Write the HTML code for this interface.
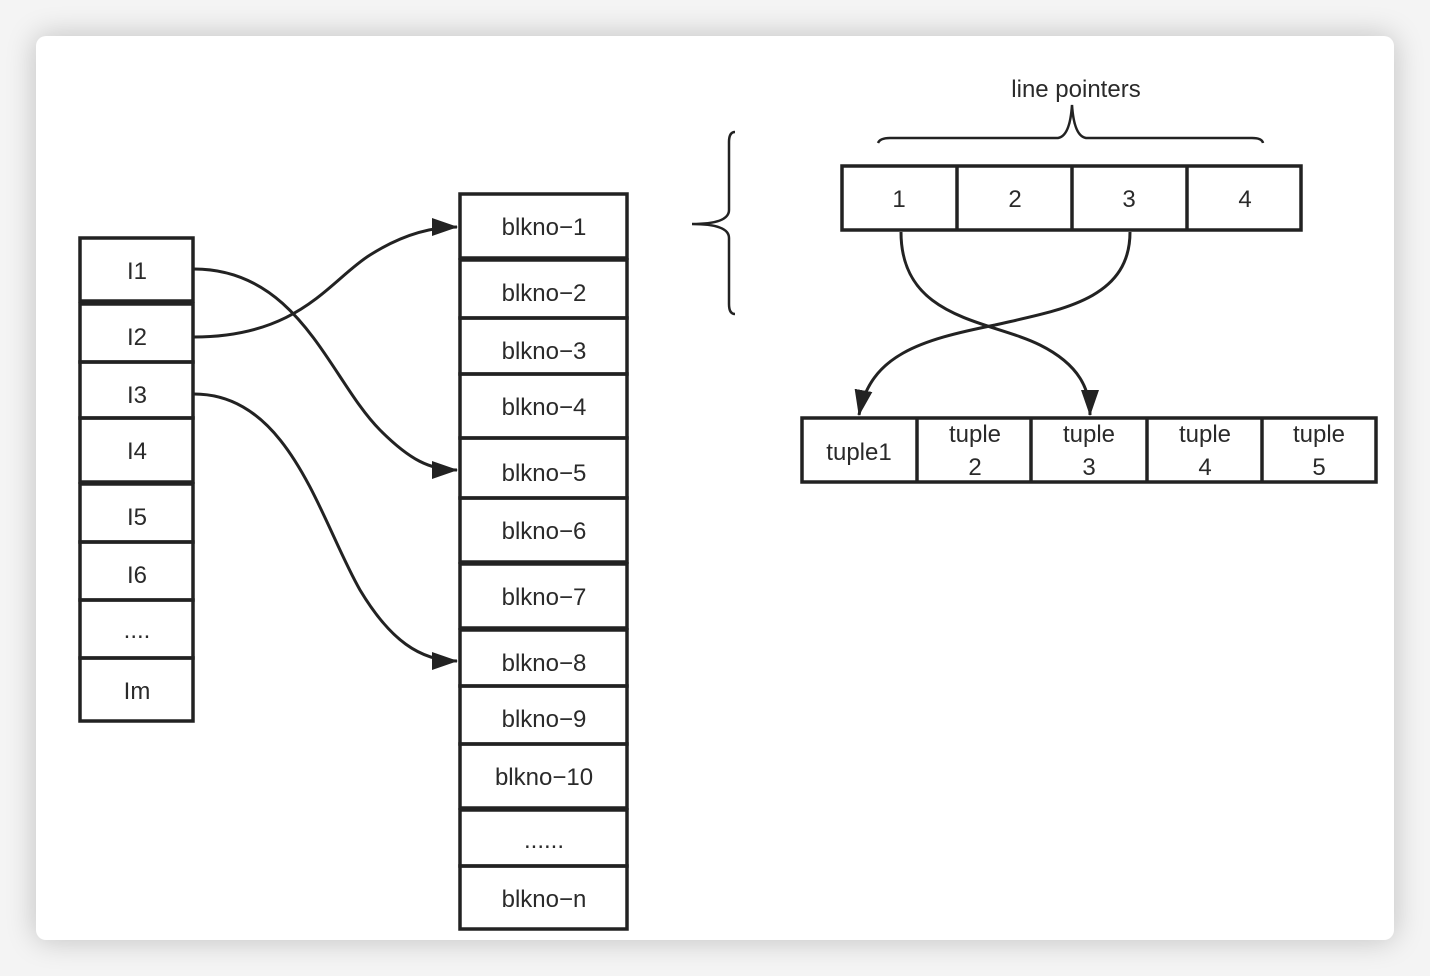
<!DOCTYPE html>
<html><head><meta charset="utf-8"><style>
html,body{margin:0;padding:0;background:#f4f4f4;width:1430px;height:976px;overflow:hidden}
.card{position:absolute;left:36px;top:36px;width:1358px;height:904px;background:#fff;border-radius:10px;box-shadow:0 0 30px rgba(0,0,0,0.22)}
svg{position:absolute;left:0;top:0}
text{font-family:"Liberation Sans",Arial,sans-serif;font-size:24px;fill:#2a2a2a;text-anchor:middle}
</style></head><body>
<div class="card"></div>
<svg width="1430" height="976" viewBox="0 0 1430 976">
<defs>
<marker id="a2" viewBox="0 0 26 18" refX="25" refY="9" markerWidth="26" markerHeight="18" orient="auto" markerUnits="userSpaceOnUse"><path d="M0,0 L26,9 L0,18 z" fill="#222"/></marker></defs>
<g fill="none" stroke="#222" stroke-width="3.5">
<rect x="80" y="238" width="113" height="63"/><rect x="80" y="304" width="113" height="58"/><rect x="80" y="362" width="113" height="56"/><rect x="80" y="418" width="113" height="64"/><rect x="80" y="484" width="113" height="58"/><rect x="80" y="542" width="113" height="58"/><rect x="80" y="600" width="113" height="58"/><rect x="80" y="658" width="113" height="63"/>
<rect x="460" y="194" width="167" height="64"/><rect x="460" y="260" width="167" height="58"/><rect x="460" y="318" width="167" height="56"/><rect x="460" y="374" width="167" height="64"/><rect x="460" y="438" width="167" height="60"/><rect x="460" y="498" width="167" height="64"/><rect x="460" y="564" width="167" height="64"/><rect x="460" y="630" width="167" height="56"/><rect x="460" y="686" width="167" height="58"/><rect x="460" y="744" width="167" height="64"/><rect x="460" y="810" width="167" height="56"/><rect x="460" y="866" width="167" height="63"/>
<rect x="842" y="166" width="459" height="64"/><line x1="957" y1="166" x2="957" y2="230"/><line x1="1072" y1="166" x2="1072" y2="230"/><line x1="1187" y1="166" x2="1187" y2="230"/>
<rect x="802" y="418" width="574" height="64"/><line x1="917" y1="418" x2="917" y2="482"/><line x1="1031" y1="418" x2="1031" y2="482"/><line x1="1147" y1="418" x2="1147" y2="482"/><line x1="1262" y1="418" x2="1262" y2="482"/>
</g>
<g fill="none" stroke="#222" stroke-width="3">
<path d="M194,269 C300,269 330,380 380,430 C410,460 430,470 457,470" marker-end="url(#a2)"/>
<path d="M194,337 C300,337 330,280 370,255 C400,236 430,227 457,227" marker-end="url(#a2)"/>
<path d="M194,394 C290,394 320,520 360,590 C390,640 420,661 457,661" marker-end="url(#a2)"/>
<path d="M901,232 C901,320 990,320 1040,345 C1080,365 1090,390 1090,415" marker-end="url(#a2)"/>
<path d="M1130,232 C1130,300 1060,310 995,325 C920,340 870,355 859,415" marker-end="url(#a2)"/>
</g>
<g fill="none" stroke="#222" stroke-width="2.5">
<path d="M878,143 Q880,138 890,138 L1058,138 Q1070,136 1072,105 Q1074,136 1086,138 L1252,138 Q1262,138 1263,143"/>
<path d="M735,132 Q729,132 729,142 L729,210 Q729,224 692,224 Q729,224 729,238 L729,304 Q729,314 735,314"/>
</g>
<text x="137" y="279">I1</text><text x="137" y="345">I2</text><text x="137" y="403">I3</text><text x="137" y="459">I4</text><text x="137" y="525">I5</text><text x="137" y="583">I6</text><text x="137" y="638">....</text><text x="137" y="699">Im</text>
<text x="544" y="235">blkno−1</text><text x="544" y="301">blkno−2</text><text x="544" y="359">blkno−3</text><text x="544" y="415">blkno−4</text><text x="544" y="481">blkno−5</text><text x="544" y="539">blkno−6</text><text x="544" y="605">blkno−7</text><text x="544" y="671">blkno−8</text><text x="544" y="727">blkno−9</text><text x="544" y="785">blkno−10</text><text x="544" y="848">......</text><text x="544" y="907">blkno−n</text>
<text x="1076" y="97">line pointers</text>
<text x="899" y="207">1</text><text x="1015" y="207">2</text><text x="1129" y="207">3</text><text x="1245" y="207">4</text>
<text x="859" y="460">tuple1</text>
<text x="975" y="442">tuple</text><text x="975" y="475">2</text>
<text x="1089" y="442">tuple</text><text x="1089" y="475">3</text>
<text x="1205" y="442">tuple</text><text x="1205" y="475">4</text>
<text x="1319" y="442">tuple</text><text x="1319" y="475">5</text>
</svg>
</body></html>
